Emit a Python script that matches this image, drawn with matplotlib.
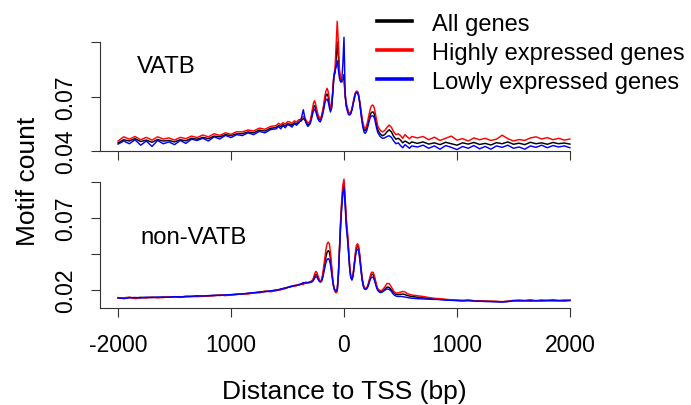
import numpy as np
import matplotlib
matplotlib.use("Agg")
import matplotlib.pyplot as plt
from matplotlib.lines import Line2D

plt.rcParams['font.family'] = ['Liberation Sans', 'DejaVu Sans']

# ---------------- data ----------------
# distance-to-TSS bins (bp)
x_bins = np.concatenate([np.arange(-2000, -649, 50), np.arange(-600, -319, 20),
                         np.arange(-300, 301, 10), np.arange(320, 601, 20),
                         np.arange(650, 2001, 50)])

series_names = ["All genes", "Highly expressed genes", "Lowly expressed genes"]
series_colors = ["#000000", "#FF0000", "#0000FF"]
panel_names = ["VATB", "non-VATB"]

vatb_all = [
    0.0445, 0.0462, 0.0455, 0.0468, 0.0452, 0.0460, 0.0448, 0.0463, 0.0455, 0.0458,
    0.0450, 0.0462, 0.0456, 0.0470, 0.0465, 0.0475, 0.0468, 0.0482, 0.0478, 0.0490,
    0.0485, 0.0495, 0.0495, 0.0505, 0.0500, 0.0515, 0.0510, 0.0525,
    0.0530, 0.0540, 0.0535, 0.0545, 0.0538, 0.0550, 0.0548, 0.0542, 0.0555, 0.0550,
    0.0560, 0.0565, 0.0580, 0.0565, 0.0540,
    0.0555, 0.0580, 0.0610, 0.0640, 0.0650, 0.0635, 0.0610, 0.0590, 0.0575, 0.0570,
    0.0585, 0.0610, 0.0640, 0.0680, 0.0705, 0.0714, 0.0700, 0.0660, 0.0625, 0.0640,
    0.0720, 0.0810, 0.0830, 0.0900, 0.1000, 0.0920, 0.0820, 0.0785, 0.0780, 0.0790,
    0.0820,
    0.0700, 0.0650, 0.0630, 0.0610, 0.0605, 0.0610, 0.0630, 0.0660, 0.0690, 0.0715,
    0.0725, 0.0725, 0.0705, 0.0665, 0.0615, 0.0570, 0.0535, 0.0515, 0.0512, 0.0525,
    0.0545, 0.0570, 0.0595, 0.0610, 0.0615, 0.0614, 0.0600, 0.0570, 0.0540, 0.0515,
    0.0495, 0.0484, 0.0490, 0.0505, 0.0517, 0.0505, 0.0480, 0.0465, 0.0470, 0.0460,
    0.0445, 0.0455, 0.0448, 0.0440, 0.0450,
    0.0442, 0.0450, 0.0438, 0.0445, 0.0435, 0.0448, 0.0440, 0.0432, 0.0445, 0.0438,
    0.0447, 0.0436, 0.0442, 0.0433, 0.0446, 0.0440, 0.0450, 0.0437, 0.0443, 0.0435,
    0.0448, 0.0440, 0.0445, 0.0437, 0.0447, 0.0440, 0.0444, 0.0438,
]
vatb_high = [
    0.0455, 0.0478, 0.0465, 0.0480, 0.0462, 0.0475, 0.0460, 0.0478, 0.0466, 0.0472,
    0.0460, 0.0475, 0.0468, 0.0482, 0.0474, 0.0488, 0.0478, 0.0495, 0.0486, 0.0500,
    0.0492, 0.0506, 0.0505, 0.0516, 0.0510, 0.0526, 0.0520, 0.0535,
    0.0540, 0.0552, 0.0545, 0.0556, 0.0548, 0.0562, 0.0560, 0.0552, 0.0566, 0.0560,
    0.0572, 0.0575, 0.0590, 0.0575, 0.0552,
    0.0565, 0.0595, 0.0630, 0.0665, 0.0677, 0.0655, 0.0625, 0.0600, 0.0585, 0.0578,
    0.0592, 0.0620, 0.0655, 0.0700, 0.0730, 0.0745, 0.0728, 0.0680, 0.0635, 0.0650,
    0.0730, 0.0820, 0.0850, 0.0980, 0.1114, 0.1000, 0.0850, 0.0795, 0.0785, 0.0790,
    0.0785,
    0.0710, 0.0665, 0.0640, 0.0615, 0.0605, 0.0610, 0.0630, 0.0662, 0.0695, 0.0720,
    0.0730, 0.0728, 0.0710, 0.0672, 0.0625, 0.0582, 0.0548, 0.0528, 0.0525, 0.0540,
    0.0565, 0.0595, 0.0625, 0.0645, 0.0653, 0.0650, 0.0632, 0.0598, 0.0565, 0.0535,
    0.0515, 0.0505, 0.0512, 0.0530, 0.0543, 0.0530, 0.0505, 0.0490, 0.0495, 0.0485,
    0.0470, 0.0490, 0.0478, 0.0468, 0.0480,
    0.0472, 0.0480, 0.0462, 0.0476, 0.0458, 0.0470, 0.0482, 0.0460, 0.0468, 0.0455,
    0.0472, 0.0462, 0.0470, 0.0458, 0.0465, 0.0487, 0.0468, 0.0455, 0.0463, 0.0458,
    0.0472, 0.0478, 0.0466, 0.0474, 0.0462, 0.0470, 0.0460, 0.0466,
]
vatb_low = [
    0.0438, 0.0455, 0.0440, 0.0462, 0.0432, 0.0455, 0.0425, 0.0458, 0.0440, 0.0450,
    0.0435, 0.0458, 0.0442, 0.0465, 0.0458, 0.0470, 0.0455, 0.0478, 0.0466, 0.0486,
    0.0474, 0.0490, 0.0485, 0.0500, 0.0490, 0.0508, 0.0500, 0.0518,
    0.0522, 0.0535, 0.0522, 0.0540, 0.0528, 0.0545, 0.0540, 0.0532, 0.0550, 0.0542,
    0.0555, 0.0575, 0.0627, 0.0560, 0.0535,
    0.0550, 0.0570, 0.0598, 0.0622, 0.0631, 0.0618, 0.0595, 0.0575, 0.0565, 0.0560,
    0.0575, 0.0598, 0.0628, 0.0662, 0.0682, 0.0686, 0.0672, 0.0640, 0.0615, 0.0635,
    0.0710, 0.0800, 0.0842, 0.0860, 0.0897, 0.0850, 0.0800, 0.0780, 0.0790, 0.0880,
    0.1026,
    0.0720, 0.0645, 0.0620, 0.0600, 0.0598, 0.0605, 0.0625, 0.0655, 0.0688, 0.0712,
    0.0722, 0.0720, 0.0700, 0.0658, 0.0605, 0.0558, 0.0522, 0.0500, 0.0498, 0.0510,
    0.0532, 0.0558, 0.0580, 0.0592, 0.0594, 0.0592, 0.0580, 0.0552, 0.0522, 0.0500,
    0.0480, 0.0470, 0.0472, 0.0480, 0.0484, 0.0475, 0.0455, 0.0440, 0.0445, 0.0430,
    0.0418, 0.0435, 0.0425, 0.0415, 0.0428,
    0.0422, 0.0432, 0.0415, 0.0428, 0.0410, 0.0430, 0.0420, 0.0408, 0.0425, 0.0415,
    0.0430, 0.0412, 0.0425, 0.0410, 0.0428, 0.0420, 0.0432, 0.0415, 0.0422, 0.0410,
    0.0428, 0.0420, 0.0432, 0.0418, 0.0430, 0.0422, 0.0428, 0.0418,
]

nonvatb_all = [
    0.0145, 0.0142, 0.0148, 0.0145, 0.0149, 0.0147, 0.0150, 0.0148, 0.0151, 0.0150,
    0.0153, 0.0152, 0.0155, 0.0156, 0.0158, 0.0157, 0.0160, 0.0162, 0.0164, 0.0163,
    0.0167, 0.0170, 0.0173, 0.0176, 0.0180, 0.0185, 0.0190, 0.0192,
    0.0198, 0.0201, 0.0205, 0.0210, 0.0212, 0.0218, 0.0222, 0.0226, 0.0230, 0.0232,
    0.0236, 0.0240, 0.0246, 0.0250, 0.0252,
    0.0255, 0.0258, 0.0262, 0.0275, 0.0295, 0.0310, 0.0305, 0.0285, 0.0268, 0.0258,
    0.0262, 0.0290, 0.0335, 0.0385, 0.0430, 0.0462, 0.0473, 0.0465, 0.0420, 0.0350,
    0.0270, 0.0215, 0.0195, 0.0188, 0.0195, 0.0300, 0.0480, 0.0660, 0.0800, 0.0900,
    0.0948,
    0.0820, 0.0670, 0.0590, 0.0480, 0.0360, 0.0290, 0.0272, 0.0300, 0.0370, 0.0440,
    0.0495, 0.0508, 0.0490, 0.0430, 0.0350, 0.0280, 0.0235, 0.0212, 0.0207, 0.0212,
    0.0225, 0.0250, 0.0280, 0.0302, 0.0310, 0.0305, 0.0282, 0.0250, 0.0220, 0.0200,
    0.0187, 0.0192, 0.0205, 0.0220, 0.0218, 0.0200, 0.0180, 0.0170, 0.0168, 0.0170,
    0.0172, 0.0168, 0.0162, 0.0158, 0.0155,
    0.0150, 0.0146, 0.0142, 0.0138, 0.0135, 0.0133, 0.0130, 0.0128, 0.0126, 0.0128,
    0.0125, 0.0124, 0.0122, 0.0121, 0.0120, 0.0118, 0.0121, 0.0125, 0.0127, 0.0126,
    0.0128, 0.0125, 0.0127, 0.0126, 0.0128, 0.0126, 0.0127, 0.0128,
]
nonvatb_high = [
    0.0143, 0.0146, 0.0150, 0.0140, 0.0147, 0.0145, 0.0149, 0.0146, 0.0148, 0.0152,
    0.0150, 0.0149, 0.0152, 0.0155, 0.0154, 0.0156, 0.0158, 0.0160, 0.0166, 0.0161,
    0.0165, 0.0168, 0.0175, 0.0172, 0.0182, 0.0180, 0.0192, 0.0188,
    0.0195, 0.0204, 0.0200, 0.0212, 0.0208, 0.0220, 0.0218, 0.0228, 0.0225, 0.0235,
    0.0232, 0.0242, 0.0238, 0.0255, 0.0250,
    0.0258, 0.0262, 0.0268, 0.0285, 0.0312, 0.0330, 0.0322, 0.0298, 0.0275, 0.0262,
    0.0268, 0.0305, 0.0360, 0.0420, 0.0480, 0.0520, 0.0533, 0.0522, 0.0465, 0.0380,
    0.0280, 0.0212, 0.0188, 0.0180, 0.0190, 0.0305, 0.0495, 0.0685, 0.0830, 0.0930,
    0.0970,
    0.0850, 0.0700, 0.0610, 0.0500, 0.0375, 0.0295, 0.0272, 0.0305, 0.0380, 0.0455,
    0.0510, 0.0522, 0.0505, 0.0445, 0.0362, 0.0290, 0.0242, 0.0218, 0.0210, 0.0215,
    0.0230, 0.0260, 0.0292, 0.0318, 0.0325, 0.0320, 0.0295, 0.0262, 0.0230, 0.0208,
    0.0195, 0.0200, 0.0220, 0.0245, 0.0245, 0.0220, 0.0192, 0.0178, 0.0180, 0.0185,
    0.0190, 0.0186, 0.0175, 0.0170, 0.0165,
    0.0160, 0.0155, 0.0148, 0.0142, 0.0140, 0.0135, 0.0132, 0.0130, 0.0128, 0.0131,
    0.0126, 0.0125, 0.0123, 0.0122, 0.0121, 0.0119, 0.0123, 0.0128, 0.0130, 0.0127,
    0.0132, 0.0126, 0.0131, 0.0128, 0.0133, 0.0127, 0.0130, 0.0129,
]
nonvatb_low = [
    0.0147, 0.0140, 0.0146, 0.0148, 0.0145, 0.0150, 0.0147, 0.0151, 0.0149, 0.0150,
    0.0154, 0.0151, 0.0156, 0.0155, 0.0159, 0.0158, 0.0161, 0.0163, 0.0162, 0.0166,
    0.0168, 0.0171, 0.0172, 0.0178, 0.0181, 0.0186, 0.0188, 0.0194,
    0.0200, 0.0199, 0.0208, 0.0207, 0.0215, 0.0216, 0.0224, 0.0225, 0.0232, 0.0230,
    0.0238, 0.0242, 0.0252, 0.0248, 0.0250,
    0.0252, 0.0255, 0.0258, 0.0268, 0.0282, 0.0292, 0.0290, 0.0275, 0.0262, 0.0255,
    0.0258, 0.0280, 0.0315, 0.0355, 0.0390, 0.0412, 0.0418, 0.0410, 0.0375, 0.0320,
    0.0262, 0.0218, 0.0200, 0.0195, 0.0205, 0.0300, 0.0470, 0.0640, 0.0775, 0.0870,
    0.0915,
    0.0790, 0.0640, 0.0560, 0.0460, 0.0350, 0.0285, 0.0270, 0.0295, 0.0360, 0.0425,
    0.0475, 0.0485, 0.0470, 0.0412, 0.0338, 0.0272, 0.0228, 0.0208, 0.0203, 0.0208,
    0.0220, 0.0242, 0.0268, 0.0285, 0.0290, 0.0286, 0.0265, 0.0238, 0.0212, 0.0195,
    0.0182, 0.0186, 0.0198, 0.0207, 0.0205, 0.0190, 0.0168, 0.0158, 0.0155, 0.0156,
    0.0154, 0.0151, 0.0148, 0.0145, 0.0143,
    0.0140, 0.0138, 0.0136, 0.0135, 0.0133, 0.0130, 0.0128, 0.0126, 0.0124, 0.0126,
    0.0123, 0.0122, 0.0120, 0.0119, 0.0118, 0.0117, 0.0119, 0.0126, 0.0124, 0.0125,
    0.0123, 0.0126, 0.0124, 0.0127, 0.0125, 0.0126, 0.0124, 0.0127,
]

x_ticks = [-2000, -1000, 0, 1000, 2000]
x_ticklabels = ["-2000", "1000", "0", "1000", "2000"]
vatb_yticks = [0.04, 0.07, 0.10]
vatb_yticklabels = ["0.04", "0.07", ""]
nonvatb_yticks = [0.02, 0.045, 0.07, 0.095]
nonvatb_yticklabels = ["0.02", "", "0.07", ""]

for s in (vatb_all, vatb_high, vatb_low, nonvatb_all, nonvatb_high, nonvatb_low):
    assert len(s) == len(x_bins), len(s)

# ---------------- figure ----------------
W, H = 691, 406
fig = plt.figure(figsize=(W / 100, H / 100), dpi=100)

def fx(px):
    return px / W

def fy(py):
    return 1 - py / H

ax1 = fig.add_axes([fx(100), fy(152), fx(588) - fx(100), fy(15.75) - fy(152)])
ax2 = fig.add_axes([fx(100), fy(309), fx(588) - fx(100), fy(175.8) - fy(309)])

axis_col = "#333333"
panels = [
    (ax1, [vatb_all, vatb_high, vatb_low], (0.04, 0.115), vatb_yticks, vatb_yticklabels, 0.10),
    (ax2, [nonvatb_all, nonvatb_high, nonvatb_low], (0.0075, 0.100), nonvatb_yticks, nonvatb_yticklabels, 0.095),
]
for ax, data, ylim, yt, ytl, ytop in panels:
    for vals, col, name in zip(data, series_colors, series_names):
        ax.plot(x_bins, vals, color=col, lw=1.05, clip_on=False, solid_joinstyle='round')
    ax.set_xlim(-2160, 2160)
    ax.set_ylim(*ylim)
    for sp in ("top", "right"):
        ax.spines[sp].set_visible(False)
    for sp in ("left", "bottom"):
        ax.spines[sp].set_color(axis_col)
        ax.spines[sp].set_linewidth(0.8)
    ax.spines["left"].set_bounds(ylim[0], ytop)
    ax.spines["bottom"].set_bounds(-2160, 2000)
    ax.set_xticks(x_ticks)
    ax.set_yticks(yt)
    ax.set_yticklabels(ytl, rotation=90, va="center")
    ax.tick_params(axis="both", direction="out", length=6.8, width=0.8, color=axis_col,
                   labelsize=16.5, labelcolor="black")
    ax.tick_params(axis="y", pad=9.5)
    ax.tick_params(axis="x", pad=11)
    ax.patch.set_visible(False)

ax1.set_xticklabels([])
ax2.set_xticklabels(x_ticklabels)

# panel titles
fig.text(fx(136.7), fy(73.3), panel_names[0], fontsize=17.2, ha="left", va="baseline")
fig.text(fx(140), fy(244), panel_names[1], fontsize=17.2, ha="left", va="baseline")

# axis labels
fig.text(fx(344), fy(399.3), "Distance to TSS (bp)", fontsize=19, ha="center", va="baseline")
fig.text(fx(35), fy(181), "Motif count", fontsize=19, rotation=90, rotation_mode="anchor",
         ha="center", va="baseline")

# legend
leg_handles = [Line2D([], [], color=c, lw=2.6) for c in series_colors]
fig.legend(leg_handles, series_names, loc="upper left", bbox_to_anchor=(fx(377), fy(13.5)),
           frameon=False, fontsize=17, handlelength=1.48, handletextpad=0.85,
           labelspacing=0.3, borderpad=0, borderaxespad=0)

fig.savefig("out.png", dpi=100)
